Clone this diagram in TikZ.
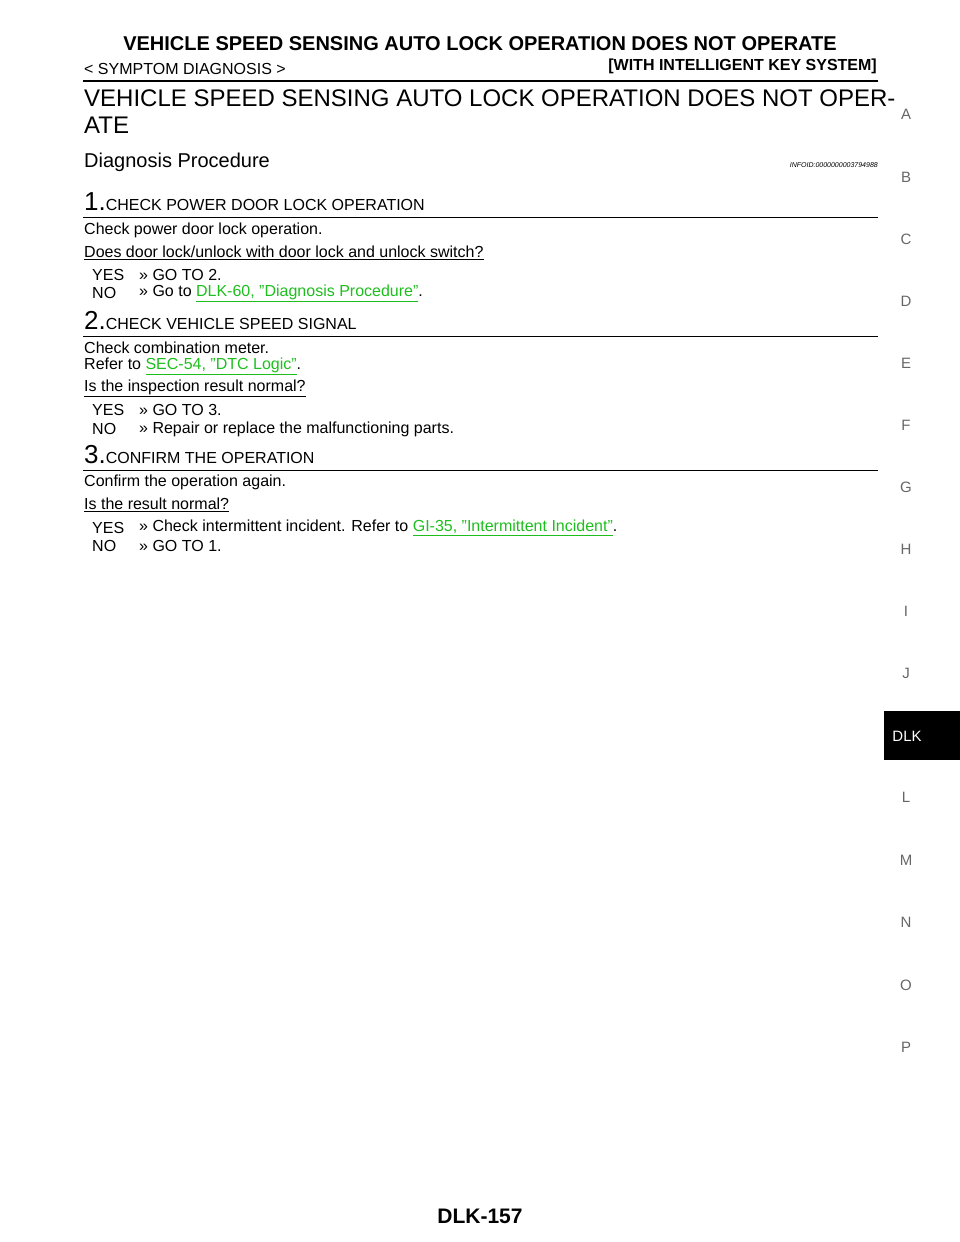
\documentclass[tikz,border=0pt]{standalone}
\usepackage{fontspec}
\setmainfont{Liberation Sans}
\definecolor{lnk}{RGB}{30,190,30}
\newcommand{\lk}[1]{\textcolor{lnk}{\underline{#1}}}
\begin{document}
\begin{tikzpicture}[x=1pt,y=-1pt,
 t/.style={anchor=west,inner sep=0pt,font=\fontsize{16}{18}\selectfont},
 side/.style={inner sep=0pt,font=\fontsize{15}{17}\selectfont,text=black!60}]
\useasboundingbox (0,0) rectangle (960,1242);
\node[inner sep=0pt,font=\bfseries\fontsize{20}{22}\selectfont] (h1) at (480,44) {VEHICLE SPEED SENSING AUTO LOCK OPERATION DOES NOT OPERATE};
\node[t,font=\fontsize{16}{18}\selectfont] (h2) at (84,69) {< SYMPTOM DIAGNOSIS >};
\node[anchor=east,inner sep=0pt,font=\bfseries\fontsize{16}{18}\selectfont] (h3) at (877,66) {[WITH INTELLIGENT KEY SYSTEM]};
\draw[line width=2.2pt] (83,81) -- (878,81);
\node[t,font=\fontsize{24}{26}\selectfont] (ti1) at (84,98) {VEHICLE SPEED SENSING AUTO LOCK OPERATION DOES NOT OPER-};
\node[t,font=\fontsize{24}{26}\selectfont] (ti2) at (84,125) {ATE};
\node[t,font=\fontsize{20}{22}\selectfont] (dp) at (84,162) {Diagnosis Procedure};
\node[anchor=east,inner sep=0pt,font=\itshape\fontsize{7}{8}\selectfont] (inf) at (878,165) {INFOID:0000000003794988};
% step 1
\node[t] (s1) at (84,202) {{\fontsize{26}{28}\selectfont 1.}CHECK POWER DOOR LOCK OPERATION};
\draw[line width=0.9pt] (83,217) -- (878,217);
\node[t] (a1) at (84,230) {Check power door lock operation.};
\node[t] (a2) at (84,253) {\underline{Does door lock/unlock with door lock and unlock switch?}};
\node[t] (a3) at (92,275) {YES};\node[t] (a3b) at (139,275) {>> GO TO 2.};
\node[t] (a4) at (92,293) {NO};\node[t] (a4b) at (139,293) {>> Go to \lk{DLK-60, "Diagnosis Procedure"}.};
% step 2
\node[t] (s2) at (84,320) {{\fontsize{26}{28}\selectfont 2.}CHECK VEHICLE SPEED SIGNAL};
\draw[line width=0.9pt] (83,336) -- (878,336);
\node[t] (b1) at (84,348) {Check combination meter.};
\node[t] (b2) at (84,366) {Refer to \lk{SEC-54, "DTC Logic"}.};
\node[t] (b3) at (84,388) {\underline{Is the inspection result normal?}};
\node[t] (b4) at (92,410) {YES};\node[t] (b4b) at (139,410) {>> GO TO 3.};
\node[t] (b5) at (92,429) {NO};\node[t] (b5b) at (139,429) {>> Repair or replace the malfunctioning parts.};
% step 3
\node[t] (s3) at (84,455) {{\fontsize{26}{28}\selectfont 3.}CONFIRM THE OPERATION};
\draw[line width=0.9pt] (83,470) -- (878,470);
\node[t] (c1) at (84,482) {Confirm the operation again.};
\node[t] (c2) at (84,505) {\underline{Is the result normal?}};
\node[t] (c3) at (92,528) {YES};\node[t] (c3b) at (139,528) {>> Check intermittent incident. Refer to \lk{GI-35, "Intermittent Incident"}.};
\node[t] (c4) at (92,546) {NO};\node[t] (c4b) at (139,546) {>> GO TO 1.};
% sidebar
\foreach \l/\yy in {A/114,B/177,C/239,D/301,E/363,F/425,G/487,H/549,I/611,J/673,L/797,M/860,N/922,O/985,P/1047}
  \node[side] (sb\l) at (906,\yy) {\l};
\fill[black] (884,711) rectangle (960,760);
\node[side,text=white] (dlk) at (907,736) {DLK};
\node[inner sep=0pt,font=\bfseries\fontsize{21}{23}\selectfont] (ft) at (480,1216) {DLK-157};
\end{tikzpicture}
\end{document}
